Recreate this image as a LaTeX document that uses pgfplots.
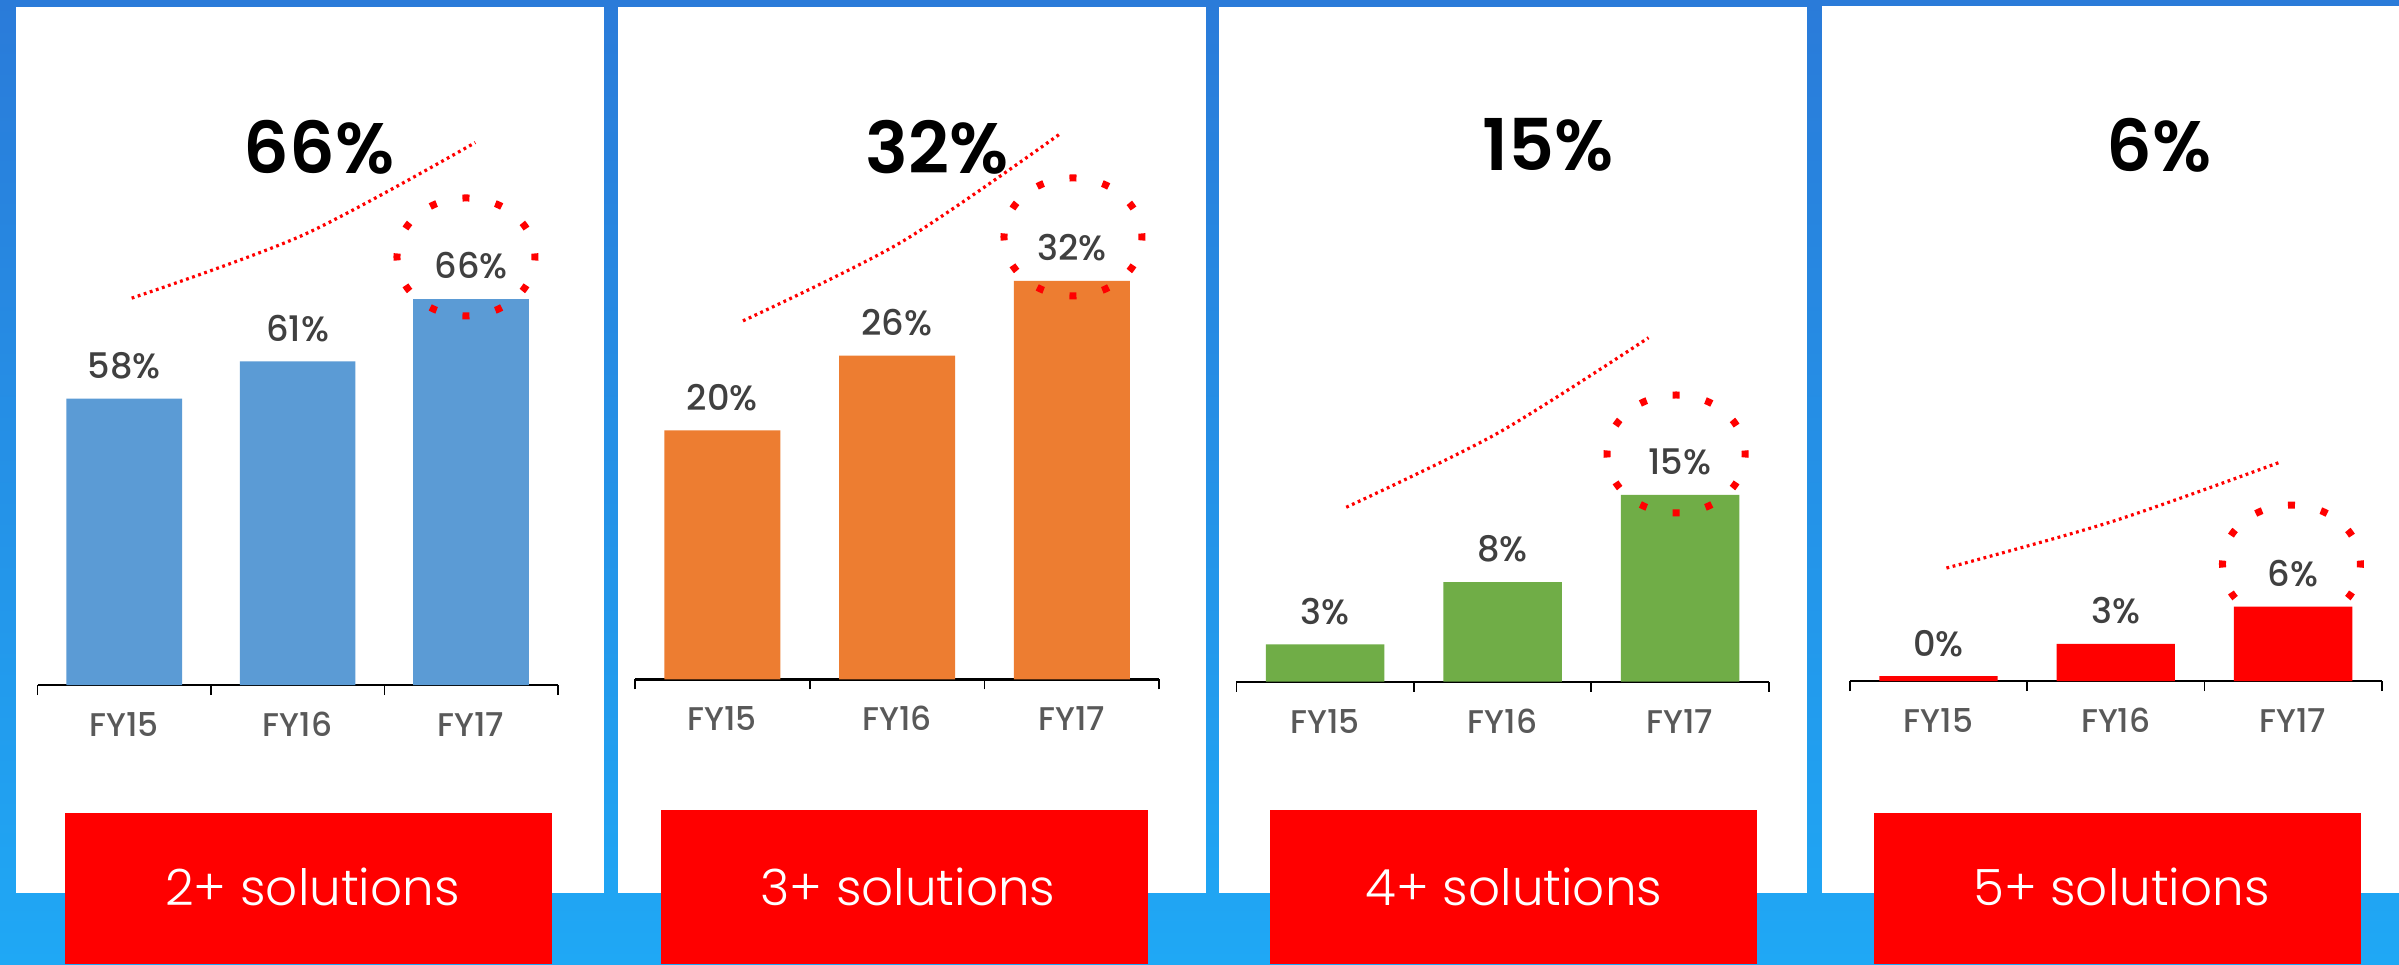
\documentclass[border=0pt]{standalone}
\usepackage{pgfplots}
\pgfplotsset{compat=1.18}
\usepackage{fontspec}
\setmainfont{Poppins}
\newfontfamily\lightfont{Poppins}[UprightFont=* Light]
\newfontfamily\semifont{Poppins}[UprightFont=* SemiBold]
\newfontfamily\medfont{Poppins}[UprightFont=* Medium]
\definecolor{cblue}{HTML}{5B9BD5}
\definecolor{corange}{HTML}{ED7D31}
\definecolor{cgreen}{HTML}{70AD47}
\definecolor{cred}{HTML}{FF0000}
\definecolor{valtxt}{HTML}{404040}
\definecolor{ticktxt}{HTML}{595959}
\definecolor{bgtop}{HTML}{2A7BD9}
\definecolor{bgmid}{HTML}{1683EB}
\definecolor{bgbot}{HTML}{1FA8F5}
\tikzset{ring/.style={cred, line width=3.5pt, dash pattern=on 3.5pt off 13.28pt, dash phase=1.75pt}}
\pgfplotsset{
  panel/.style={scale only axis, anchor=south west, height=300pt,
    xmin=-0.5, xmax=2.5,
    axis x line*=bottom, axis y line=none, ytick=\empty,
    xtick={0,1,2}, xticklabels={FY15,FY16,FY17}, major tick length=0pt,
    extra x ticks={-0.5,0.5,1.5,2.5}, extra x tick labels={},
    extra x tick style={tick align=outside, major tick length=5pt,
      tick style={line width=0.8pt, black}},
    axis line style={line width=1.2pt, black},
    xticklabel style={font=\medfont\fontsize{16.4}{18}\selectfont, text=ticktxt, anchor=base, yshift=-25.75pt}},
  bars/.style={ybar, draw=none, bar shift=0pt, point meta=explicit symbolic,
    nodes near coords,
    every node near coord/.append style={anchor=center, yshift=16.5pt,
      font=\medfont\fontsize{17.6}{20}\selectfont, text=valtxt}},
  trend/.style={cred, line width=1.6pt, dash pattern=on 1.4pt off 1.8pt, smooth, no markers}
}
\begin{document}
\begin{tikzpicture}
% background
\shade[top color=bgtop, middle color=bgmid, bottom color=bgbot] (0pt,0pt) rectangle (1199.5pt,-482pt);
% white panels
\fill[white] (8pt,-3.7pt) rectangle (301.8pt,-446.4pt);
\fill[white] (309pt,-3.7pt) rectangle (602.9pt,-446.4pt);
\fill[white] (609.5pt,-3.7pt) rectangle (903.5pt,-446.4pt);
\fill[white] (910.9pt,-3pt) rectangle (1199.5pt,-446.4pt);
% red boxes
\fill[cred] (32.5pt,-406.7pt) rectangle (275.9pt,-482pt);
\fill[cred] (330.5pt,-405pt) rectangle (574pt,-482pt);
\fill[cred] (635pt,-405pt) rectangle (878.5pt,-482pt);
\fill[cred] (936.95pt,-406.5pt) rectangle (1180.6pt,-482pt);
\begin{scope}[every node/.style={text=white, font=\lightfont\fontsize{25}{30}\selectfont}]
\node at (156.25pt,-443.5pt) {2+ solutions};
\node at (454pt,-443.5pt) {3+ solutions};
\node at (757pt,-443.7pt) {4+ solutions};
\node at (1060.7pt,-443.5pt) {5+ solutions};
\end{scope}
% titles
\begin{scope}[every node/.style={text=black, font=\semifont\fontsize{35.7}{40}\selectfont}]
\node at (159.5pt,-73.75pt) {66\%};
\node at (468.5pt,-73.75pt) {32\%};
\node at (774pt,-72.5pt) {15\%};
\node at (1079.5pt,-72.85pt) {6\%};
\end{scope}
% panel 1
\begin{axis}[panel, at={(18.75pt,-342.5pt)}, width=260.1pt, ymin=35, ymax=83.19, bar width=57.8pt]
\addplot[bars, fill=cblue] coordinates {(0,58)[58\%] (1,61)[61\%] (2,66)[66\%]};
\addplot[trend] coordinates {(0.043,66.07) (1.035,71.16) (2.025,78.57)};
\draw[ring] (axis cs:1.971,69.38) ellipse [x radius=34.5pt, y radius=29.5pt];
\end{axis}
% panel 2
\begin{axis}[panel, at={(317.5pt,-339.65pt)}, width=262.05pt, ymin=0, ymax=48.19, bar width=58pt]
\addplot[bars, fill=corange] coordinates {(0,20)[20\%] (1,26)[26\%] (2,32)[32\%]};
\addplot[trend] coordinates {(0.118,28.79) (1.024,35.11) (1.932,43.8)};
\draw[ring] (axis cs:2.007,35.53) ellipse [x radius=34.5pt, y radius=29.5pt];
\end{axis}
% panel 3
\begin{axis}[panel, at={(618.2pt,-340.85pt)}, width=266.15pt, ymin=0, ymax=48.19, bar width=59.25pt]
\addplot[bars, fill=cgreen] coordinates {(0,3)[3\%] (1,8)[8\%] (2,15)[15\%]};
\addplot[trend] coordinates {(0.119,14.01) (0.971,19.95) (1.823,27.63)};
\draw[ring] (axis cs:1.978,18.29) ellipse [x radius=34.5pt, y radius=29.5pt];
\end{axis}
% panel 4
\begin{axis}[panel, at={(924.9pt,-340.6pt)}, width=265.95pt, ymin=0, ymax=48.19, bar width=59.2pt]
\addplot[bars, fill=cred] coordinates {(0,0.4)[0\%] (1,3)[3\%] (2,6)[6\%]};
\addplot[trend] coordinates {(0.045,9.09) (0.983,12.84) (1.924,17.58)};
\draw[ring] (axis cs:1.991,9.41) ellipse [x radius=34.5pt, y radius=29.5pt];
\end{axis}
\end{tikzpicture}
\end{document}
